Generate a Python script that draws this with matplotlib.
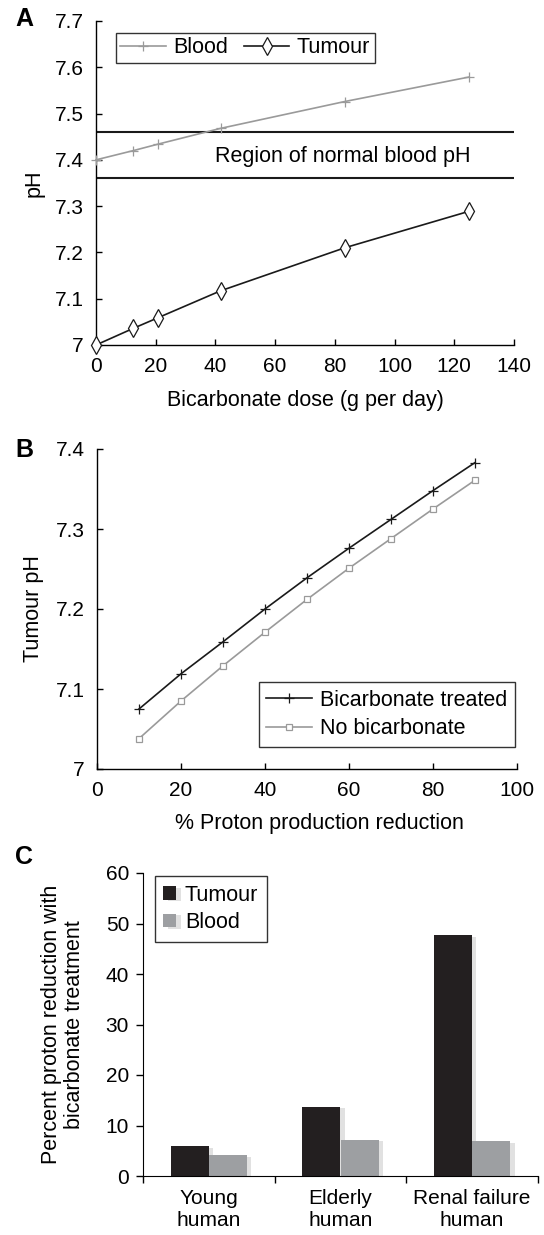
import matplotlib
matplotlib.use('Agg')
import matplotlib.pyplot as plt
import matplotlib.patheffects as pe
import numpy as np

plt.rcParams['font.family'] = ['Liberation Sans', 'DejaVu Sans']
plt.rcParams['font.size'] = 15.5

# Panel A data
dose = [0, 12.5, 20.8, 41.7, 83.3, 125]
blood_ph = [7.400, 7.420, 7.434, 7.468, 7.526, 7.579]
tumour_ph = [7.000, 7.036, 7.059, 7.117, 7.210, 7.289]
normal_low, normal_high = 7.36, 7.46

# Panel B data
reduction = [10, 20, 30, 40, 50, 60, 70, 80, 90]
treated_ph = [7.075, 7.119, 7.159, 7.200, 7.239, 7.276, 7.312, 7.348, 7.383]
untreated_ph = [7.038, 7.085, 7.129, 7.171, 7.212, 7.251, 7.288, 7.325, 7.361]

# Panel C data
groups = ['Young\nhuman', 'Elderly\nhuman', 'Renal failure\nhuman']
tumour_red = [5.9, 13.7, 47.7]
blood_red = [4.1, 7.2, 6.9]

W, H = 544, 1235
fig = plt.figure(figsize=(W / 100, H / 100), dpi=100)


def rect(l, t, r, b):
    return [l / W, 1 - b / H, (r - l) / W, (b - t) / H]


GRAY = '#9a9a9a'
DARK = '#1a1a1a'
TICK = 15

# ---- A ----
ax = fig.add_axes(rect(96, 21, 514, 345))
ax.plot(dose, blood_ph, color=GRAY, lw=1.2, marker='+', ms=6.5, mew=0.9,
        label='Blood', clip_on=False, zorder=3)
ax.plot(dose, tumour_ph, color=DARK, lw=1.2, marker='d', ms=9, mfc='white',
        mec=DARK, mew=0.9, label='Tumour', clip_on=False, zorder=4)
ax.axhline(normal_high, color=DARK, lw=1.5)
ax.axhline(normal_low, color=DARK, lw=1.5)
ax.text(82.7, 7.407, 'Region of normal blood pH', ha='center', va='center')
ax.set_xlim(0, 140)
ax.set_ylim(7.0, 7.7)
ax.set_xticks(np.arange(0, 141, 20))
ax.set_yticks([7.0, 7.1, 7.2, 7.3, 7.4, 7.5, 7.6, 7.7])
ax.set_yticklabels(['7', '7.1', '7.2', '7.3', '7.4', '7.5', '7.6', '7.7'])
ax.set_xlabel('Bicarbonate dose (g per day)')
ax.set_ylabel('pH')
ax.xaxis.set_label_coords(0.5, -0.139)
ax.yaxis.set_label_coords(-0.124, 0.5)
leg = ax.legend(ncol=2, loc='upper left', bbox_to_anchor=(0.048, 0.963),
                borderaxespad=0, fancybox=False, edgecolor='black',
                fontsize=15.5, handlelength=2.1, columnspacing=0.75,
                handletextpad=0.35, borderpad=0.2)
leg.get_frame().set_linewidth(1.0)

# ---- B ----
bx = fig.add_axes(rect(97, 449, 517, 769))
bx.plot(reduction, treated_ph, color=DARK, lw=1.2, marker='+', ms=6.5, mew=0.9,
        label='Bicarbonate treated', zorder=4)
bx.plot(reduction, untreated_ph, color=GRAY, lw=1.2, marker='s', ms=4.2,
        mfc='white', mec=GRAY, mew=0.9, label='No bicarbonate', zorder=3)
bx.set_xlim(0, 100)
bx.set_ylim(7.0, 7.4)
bx.set_xticks(np.arange(0, 101, 20))
bx.set_yticks([7.0, 7.1, 7.2, 7.3, 7.4])
bx.set_yticklabels(['7', '7.1', '7.2', '7.3', '7.4'])
bx.set_xlabel('% Proton production reduction')
bx.set_ylabel('Tumour pH')
bx.xaxis.set_label_coords(0.53, -0.1375)
bx.yaxis.set_label_coords(-0.126, 0.5)
leg = bx.legend(loc='lower right', bbox_to_anchor=(0.995, 0.069),
                borderaxespad=0, fancybox=False, edgecolor='black',
                fontsize=15.5, handlelength=2.1, handletextpad=0.4,
                borderpad=0.35, labelspacing=0.35)
leg.get_frame().set_linewidth(1.0)

for a in (ax, bx):
    for s in ('top', 'right'):
        a.spines[s].set_visible(False)
    for s in ('left', 'bottom'):
        a.spines[s].set_linewidth(1.0)
    a.tick_params(direction='in', length=4, width=1.0, labelsize=TICK)
    a.tick_params(axis='y', pad=9)
    a.tick_params(axis='x', pad=8.5)

# ---- C ----
cx = fig.add_axes(rect(143, 873, 538, 1176))
xc = np.arange(len(groups))
bw = 0.29
shadow = [pe.SimplePatchShadow(offset=(3, -1), shadow_rgbFace='#888888', alpha=0.25), pe.Normal()]
b1 = cx.bar(xc - bw / 2, tumour_red, bw, color='#231f20', label='Tumour')
b2 = cx.bar(xc + bw / 2, blood_red, bw, color='#9d9fa2', label='Blood')
for p in list(b1) + list(b2):
    p.set_path_effects(shadow)
cx.set_xlim(-0.5, 2.5)
cx.set_ylim(0, 60)
cx.set_yticks(np.arange(0, 61, 10))
cx.set_xticks(xc)
cx.set_xticklabels(groups, fontsize=15, linespacing=1.2)
cx.set_xticks(np.arange(-0.5, 2.6, 1), minor=True)
cx.tick_params(axis='x', which='major', length=0, pad=9)
cx.tick_params(axis='x', which='minor', direction='out', length=5, width=1.0)
cx.tick_params(axis='y', direction='out', length=5, width=1.0, labelsize=TICK, pad=5)
for s in ('top', 'right'):
    cx.spines[s].set_visible(False)
cx.set_ylabel('Percent proton reduction with\nbicarbonate treatment', fontsize=15.5,
              linespacing=1.1)
cx.yaxis.set_label_coords(-0.147, 0.5)
leg = cx.legend(loc='upper left', bbox_to_anchor=(0.03, 0.99), borderaxespad=0,
                fancybox=False, edgecolor='black', fontsize=15.5,
                handlelength=0.6, handleheight=0.6, handletextpad=0.4,
                borderpad=0.4, labelspacing=0.3)
leg.get_frame().set_linewidth(1.0)

# panel letters
for lab, y in (('A', 19), ('B', 450), ('C', 857)):
    fig.text(15 / W, 1 - y / H, lab, fontsize=18, fontweight='bold',
             ha='left', va='center')

fig.savefig('out.png', dpi=100)
